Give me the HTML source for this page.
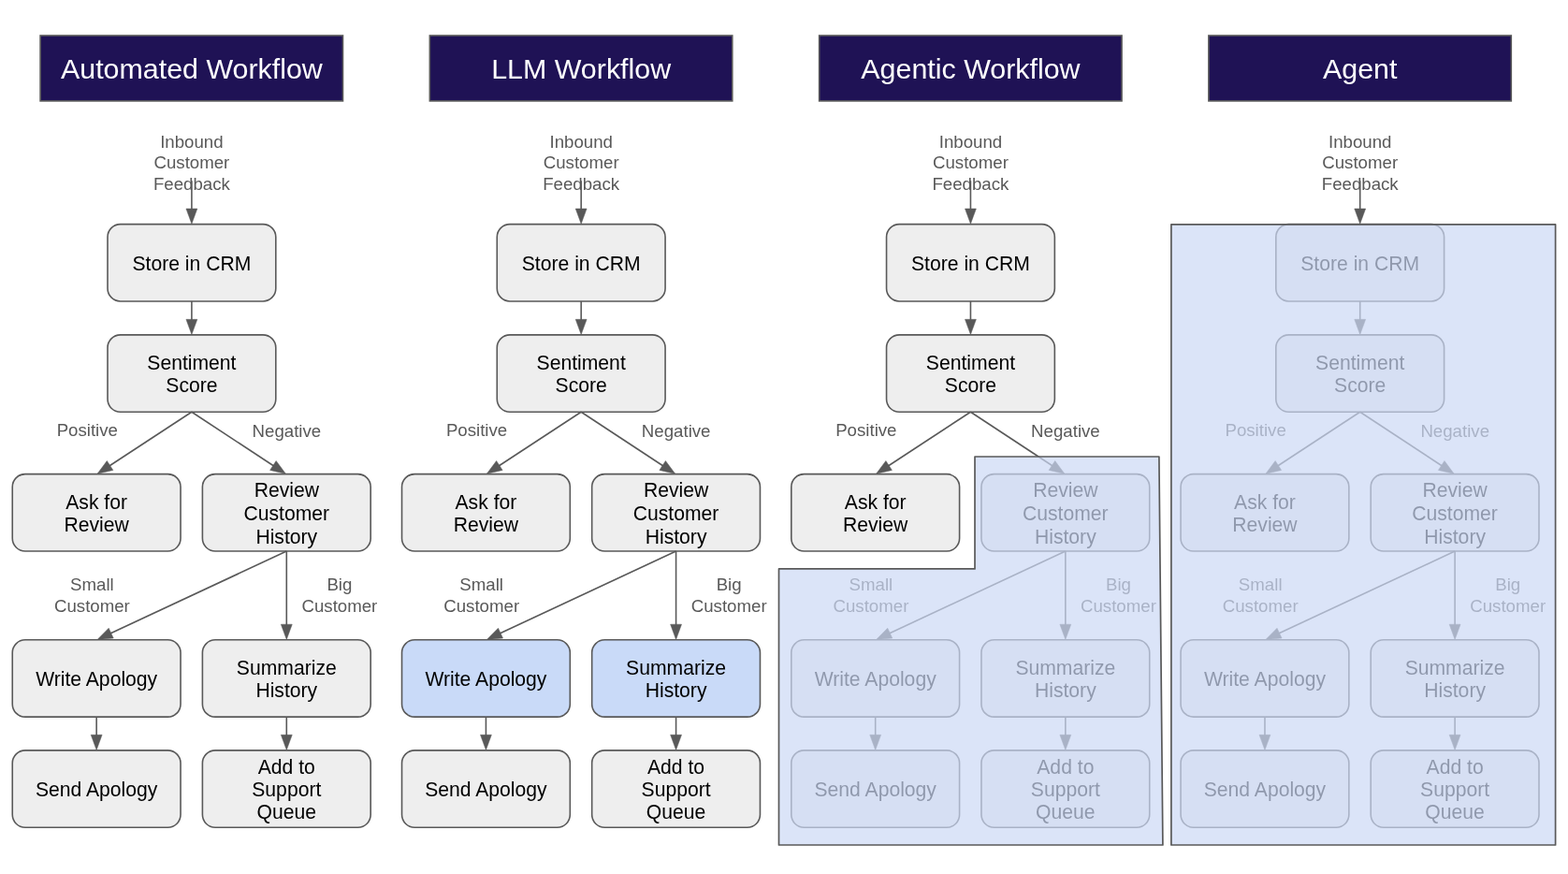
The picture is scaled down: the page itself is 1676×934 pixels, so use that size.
<!DOCTYPE html>
<html lang="en">
<head>
<meta charset="utf-8">
<title>Workflow to Agent spectrum</title>
<style>
html,body{margin:0;padding:0;background:#ffffff;}
body{width:1676px;height:934px;overflow:hidden;}
svg{display:block;will-change:transform;}
text{font-family:"Liberation Sans",sans-serif;text-anchor:middle;}
.h{font-size:30.4px;fill:#ffffff;}
.b{font-size:21.15px;fill:#000000;}
.l{font-size:18.67px;fill:#595959;}
</style>
</head>
<body>
<svg width="1676" height="934" viewBox="0 0 1676 934">
<rect x="0" y="0" width="1676" height="934" fill="#ffffff"/>
<g transform="translate(0.00,0)">
<rect x="43.1" y="38" width="323.4" height="69.9" fill="#1f1255" stroke="#595959" stroke-width="1.6"/>
<text class="h" x="204.9" y="84">Automated Workflow</text>
<text class="l" x="204.90" y="157.60">Inbound</text>
<text class="l" x="204.90" y="180.20">Customer</text>
<text class="l" x="204.90" y="202.80">Feedback</text>
<line x1="204.90" y1="193.30" x2="204.90" y2="224.00" stroke="#595959" stroke-width="1.6"/>
<polygon points="204.90,239.20 198.95,223.00 210.85,223.00" fill="#595959" stroke="#595959" stroke-width="0.5" stroke-linejoin="miter"/>
<rect x="115.00" y="239.60" width="179.8" height="82.35" rx="13.7" ry="13.7" fill="#eeeeee" stroke="#595959" stroke-width="1.6"/>
<text class="b" x="204.90" y="288.88">Store in CRM</text>
<line x1="204.90" y1="321.95" x2="204.90" y2="342.30" stroke="#595959" stroke-width="1.6"/>
<polygon points="204.90,357.50 198.95,341.30 210.85,341.30" fill="#595959" stroke="#595959" stroke-width="0.5" stroke-linejoin="miter"/>
<rect x="115.00" y="357.90" width="179.8" height="82.35" rx="13.7" ry="13.7" fill="#eeeeee" stroke="#595959" stroke-width="1.6"/>
<text class="b" x="204.90" y="394.95">Sentiment</text>
<text class="b" x="204.90" y="419.10">Score</text>
<line x1="204.90" y1="440.25" x2="116.76" y2="498.02" stroke="#595959" stroke-width="1.6"/>
<polygon points="104.05,506.35 114.34,492.49 120.86,502.45" fill="#595959" stroke="#595959" stroke-width="0.5" stroke-linejoin="miter"/>
<line x1="204.90" y1="440.25" x2="292.70" y2="498.00" stroke="#595959" stroke-width="1.6"/>
<polygon points="305.40,506.35 288.60,502.42 295.13,492.48" fill="#595959" stroke="#595959" stroke-width="0.5" stroke-linejoin="miter"/>
<text class="l" x="93.30" y="465.60">Positive</text>
<text class="l" x="306.40" y="466.80">Negative</text>
<rect x="13.25" y="506.65" width="179.8" height="82.35" rx="13.7" ry="13.7" fill="#eeeeee" stroke="#595959" stroke-width="1.6"/>
<text class="b" x="103.15" y="543.70">Ask for</text>
<text class="b" x="103.15" y="567.85">Review</text>
<rect x="216.40" y="506.65" width="179.8" height="82.35" rx="13.7" ry="13.7" fill="#eeeeee" stroke="#595959" stroke-width="1.6"/>
<text class="b" x="306.30" y="530.97">Review</text>
<text class="b" x="306.30" y="555.87">Customer</text>
<text class="b" x="306.30" y="580.77">History</text>
<line x1="306.30" y1="589.00" x2="117.82" y2="677.07" stroke="#595959" stroke-width="1.6"/>
<polygon points="104.05,683.50 116.21,671.25 121.25,682.03" fill="#595959" stroke="#595959" stroke-width="0.5" stroke-linejoin="miter"/>
<line x1="306.30" y1="589.00" x2="306.30" y2="668.20" stroke="#595959" stroke-width="1.6"/>
<polygon points="306.30,683.40 300.35,667.20 312.25,667.20" fill="#595959" stroke="#595959" stroke-width="0.5" stroke-linejoin="miter"/>
<text class="l" x="98.40" y="631.00">Small</text>
<text class="l" x="98.40" y="653.60">Customer</text>
<text class="l" x="362.90" y="631.00">Big</text>
<text class="l" x="362.90" y="653.60">Customer</text>
<rect x="13.25" y="683.80" width="179.8" height="82.35" rx="13.7" ry="13.7" fill="#eeeeee" stroke="#595959" stroke-width="1.6"/>
<text class="b" x="103.15" y="732.92">Write Apology</text>
<rect x="216.40" y="683.80" width="179.8" height="82.35" rx="13.7" ry="13.7" fill="#eeeeee" stroke="#595959" stroke-width="1.6"/>
<text class="b" x="306.30" y="720.85">Summarize</text>
<text class="b" x="306.30" y="745.00">History</text>
<line x1="103.15" y1="766.15" x2="103.15" y2="786.30" stroke="#595959" stroke-width="1.6"/>
<polygon points="103.15,801.50 97.20,785.30 109.10,785.30" fill="#595959" stroke="#595959" stroke-width="0.5" stroke-linejoin="miter"/>
<line x1="306.30" y1="766.15" x2="306.30" y2="786.30" stroke="#595959" stroke-width="1.6"/>
<polygon points="306.30,801.50 300.35,785.30 312.25,785.30" fill="#595959" stroke="#595959" stroke-width="0.5" stroke-linejoin="miter"/>
<rect x="13.25" y="801.90" width="179.8" height="82.35" rx="13.7" ry="13.7" fill="#eeeeee" stroke="#595959" stroke-width="1.6"/>
<text class="b" x="103.15" y="851.02">Send Apology</text>
<rect x="216.40" y="801.90" width="179.8" height="82.35" rx="13.7" ry="13.7" fill="#eeeeee" stroke="#595959" stroke-width="1.6"/>
<text class="b" x="306.30" y="826.88">Add to</text>
<text class="b" x="306.30" y="851.02">Support</text>
<text class="b" x="306.30" y="875.17">Queue</text>
</g>
<g transform="translate(416.27,0)">
<rect x="43.1" y="38" width="323.4" height="69.9" fill="#1f1255" stroke="#595959" stroke-width="1.6"/>
<text class="h" x="204.9" y="84">LLM Workflow</text>
<text class="l" x="204.90" y="157.60">Inbound</text>
<text class="l" x="204.90" y="180.20">Customer</text>
<text class="l" x="204.90" y="202.80">Feedback</text>
<line x1="204.90" y1="193.30" x2="204.90" y2="224.00" stroke="#595959" stroke-width="1.6"/>
<polygon points="204.90,239.20 198.95,223.00 210.85,223.00" fill="#595959" stroke="#595959" stroke-width="0.5" stroke-linejoin="miter"/>
<rect x="115.00" y="239.60" width="179.8" height="82.35" rx="13.7" ry="13.7" fill="#eeeeee" stroke="#595959" stroke-width="1.6"/>
<text class="b" x="204.90" y="288.88">Store in CRM</text>
<line x1="204.90" y1="321.95" x2="204.90" y2="342.30" stroke="#595959" stroke-width="1.6"/>
<polygon points="204.90,357.50 198.95,341.30 210.85,341.30" fill="#595959" stroke="#595959" stroke-width="0.5" stroke-linejoin="miter"/>
<rect x="115.00" y="357.90" width="179.8" height="82.35" rx="13.7" ry="13.7" fill="#eeeeee" stroke="#595959" stroke-width="1.6"/>
<text class="b" x="204.90" y="394.95">Sentiment</text>
<text class="b" x="204.90" y="419.10">Score</text>
<line x1="204.90" y1="440.25" x2="116.76" y2="498.02" stroke="#595959" stroke-width="1.6"/>
<polygon points="104.05,506.35 114.34,492.49 120.86,502.45" fill="#595959" stroke="#595959" stroke-width="0.5" stroke-linejoin="miter"/>
<line x1="204.90" y1="440.25" x2="292.70" y2="498.00" stroke="#595959" stroke-width="1.6"/>
<polygon points="305.40,506.35 288.60,502.42 295.13,492.48" fill="#595959" stroke="#595959" stroke-width="0.5" stroke-linejoin="miter"/>
<text class="l" x="93.30" y="465.60">Positive</text>
<text class="l" x="306.40" y="466.80">Negative</text>
<rect x="13.25" y="506.65" width="179.8" height="82.35" rx="13.7" ry="13.7" fill="#eeeeee" stroke="#595959" stroke-width="1.6"/>
<text class="b" x="103.15" y="543.70">Ask for</text>
<text class="b" x="103.15" y="567.85">Review</text>
<rect x="216.40" y="506.65" width="179.8" height="82.35" rx="13.7" ry="13.7" fill="#eeeeee" stroke="#595959" stroke-width="1.6"/>
<text class="b" x="306.30" y="530.97">Review</text>
<text class="b" x="306.30" y="555.87">Customer</text>
<text class="b" x="306.30" y="580.77">History</text>
<line x1="306.30" y1="589.00" x2="117.82" y2="677.07" stroke="#595959" stroke-width="1.6"/>
<polygon points="104.05,683.50 116.21,671.25 121.25,682.03" fill="#595959" stroke="#595959" stroke-width="0.5" stroke-linejoin="miter"/>
<line x1="306.30" y1="589.00" x2="306.30" y2="668.20" stroke="#595959" stroke-width="1.6"/>
<polygon points="306.30,683.40 300.35,667.20 312.25,667.20" fill="#595959" stroke="#595959" stroke-width="0.5" stroke-linejoin="miter"/>
<text class="l" x="98.40" y="631.00">Small</text>
<text class="l" x="98.40" y="653.60">Customer</text>
<text class="l" x="362.90" y="631.00">Big</text>
<text class="l" x="362.90" y="653.60">Customer</text>
<rect x="13.25" y="683.80" width="179.8" height="82.35" rx="13.7" ry="13.7" fill="#c9daf8" stroke="#595959" stroke-width="1.6"/>
<text class="b" x="103.15" y="732.92">Write Apology</text>
<rect x="216.40" y="683.80" width="179.8" height="82.35" rx="13.7" ry="13.7" fill="#c9daf8" stroke="#595959" stroke-width="1.6"/>
<text class="b" x="306.30" y="720.85">Summarize</text>
<text class="b" x="306.30" y="745.00">History</text>
<line x1="103.15" y1="766.15" x2="103.15" y2="786.30" stroke="#595959" stroke-width="1.6"/>
<polygon points="103.15,801.50 97.20,785.30 109.10,785.30" fill="#595959" stroke="#595959" stroke-width="0.5" stroke-linejoin="miter"/>
<line x1="306.30" y1="766.15" x2="306.30" y2="786.30" stroke="#595959" stroke-width="1.6"/>
<polygon points="306.30,801.50 300.35,785.30 312.25,785.30" fill="#595959" stroke="#595959" stroke-width="0.5" stroke-linejoin="miter"/>
<rect x="13.25" y="801.90" width="179.8" height="82.35" rx="13.7" ry="13.7" fill="#eeeeee" stroke="#595959" stroke-width="1.6"/>
<text class="b" x="103.15" y="851.02">Send Apology</text>
<rect x="216.40" y="801.90" width="179.8" height="82.35" rx="13.7" ry="13.7" fill="#eeeeee" stroke="#595959" stroke-width="1.6"/>
<text class="b" x="306.30" y="826.88">Add to</text>
<text class="b" x="306.30" y="851.02">Support</text>
<text class="b" x="306.30" y="875.17">Queue</text>
</g>
<g transform="translate(832.54,0)">
<rect x="43.1" y="38" width="323.4" height="69.9" fill="#1f1255" stroke="#595959" stroke-width="1.6"/>
<text class="h" x="204.9" y="84">Agentic Workflow</text>
<text class="l" x="204.90" y="157.60">Inbound</text>
<text class="l" x="204.90" y="180.20">Customer</text>
<text class="l" x="204.90" y="202.80">Feedback</text>
<line x1="204.90" y1="193.30" x2="204.90" y2="224.00" stroke="#595959" stroke-width="1.6"/>
<polygon points="204.90,239.20 198.95,223.00 210.85,223.00" fill="#595959" stroke="#595959" stroke-width="0.5" stroke-linejoin="miter"/>
<rect x="115.00" y="239.60" width="179.8" height="82.35" rx="13.7" ry="13.7" fill="#eeeeee" stroke="#595959" stroke-width="1.6"/>
<text class="b" x="204.90" y="288.88">Store in CRM</text>
<line x1="204.90" y1="321.95" x2="204.90" y2="342.30" stroke="#595959" stroke-width="1.6"/>
<polygon points="204.90,357.50 198.95,341.30 210.85,341.30" fill="#595959" stroke="#595959" stroke-width="0.5" stroke-linejoin="miter"/>
<rect x="115.00" y="357.90" width="179.8" height="82.35" rx="13.7" ry="13.7" fill="#eeeeee" stroke="#595959" stroke-width="1.6"/>
<text class="b" x="204.90" y="394.95">Sentiment</text>
<text class="b" x="204.90" y="419.10">Score</text>
<line x1="204.90" y1="440.25" x2="116.76" y2="498.02" stroke="#595959" stroke-width="1.6"/>
<polygon points="104.05,506.35 114.34,492.49 120.86,502.45" fill="#595959" stroke="#595959" stroke-width="0.5" stroke-linejoin="miter"/>
<line x1="204.90" y1="440.25" x2="292.70" y2="498.00" stroke="#595959" stroke-width="1.6"/>
<polygon points="305.40,506.35 288.60,502.42 295.13,492.48" fill="#595959" stroke="#595959" stroke-width="0.5" stroke-linejoin="miter"/>
<text class="l" x="93.30" y="465.60">Positive</text>
<text class="l" x="306.40" y="466.80">Negative</text>
<rect x="13.25" y="506.65" width="179.8" height="82.35" rx="13.7" ry="13.7" fill="#eeeeee" stroke="#595959" stroke-width="1.6"/>
<text class="b" x="103.15" y="543.70">Ask for</text>
<text class="b" x="103.15" y="567.85">Review</text>
<rect x="216.40" y="506.65" width="179.8" height="82.35" rx="13.7" ry="13.7" fill="#eeeeee" stroke="#595959" stroke-width="1.6"/>
<text class="b" x="306.30" y="530.97">Review</text>
<text class="b" x="306.30" y="555.87">Customer</text>
<text class="b" x="306.30" y="580.77">History</text>
<line x1="306.30" y1="589.00" x2="117.82" y2="677.07" stroke="#595959" stroke-width="1.6"/>
<polygon points="104.05,683.50 116.21,671.25 121.25,682.03" fill="#595959" stroke="#595959" stroke-width="0.5" stroke-linejoin="miter"/>
<line x1="306.30" y1="589.00" x2="306.30" y2="668.20" stroke="#595959" stroke-width="1.6"/>
<polygon points="306.30,683.40 300.35,667.20 312.25,667.20" fill="#595959" stroke="#595959" stroke-width="0.5" stroke-linejoin="miter"/>
<text class="l" x="98.40" y="631.00">Small</text>
<text class="l" x="98.40" y="653.60">Customer</text>
<text class="l" x="362.90" y="631.00">Big</text>
<text class="l" x="362.90" y="653.60">Customer</text>
<rect x="13.25" y="683.80" width="179.8" height="82.35" rx="13.7" ry="13.7" fill="#eeeeee" stroke="#595959" stroke-width="1.6"/>
<text class="b" x="103.15" y="732.92">Write Apology</text>
<rect x="216.40" y="683.80" width="179.8" height="82.35" rx="13.7" ry="13.7" fill="#eeeeee" stroke="#595959" stroke-width="1.6"/>
<text class="b" x="306.30" y="720.85">Summarize</text>
<text class="b" x="306.30" y="745.00">History</text>
<line x1="103.15" y1="766.15" x2="103.15" y2="786.30" stroke="#595959" stroke-width="1.6"/>
<polygon points="103.15,801.50 97.20,785.30 109.10,785.30" fill="#595959" stroke="#595959" stroke-width="0.5" stroke-linejoin="miter"/>
<line x1="306.30" y1="766.15" x2="306.30" y2="786.30" stroke="#595959" stroke-width="1.6"/>
<polygon points="306.30,801.50 300.35,785.30 312.25,785.30" fill="#595959" stroke="#595959" stroke-width="0.5" stroke-linejoin="miter"/>
<rect x="13.25" y="801.90" width="179.8" height="82.35" rx="13.7" ry="13.7" fill="#eeeeee" stroke="#595959" stroke-width="1.6"/>
<text class="b" x="103.15" y="851.02">Send Apology</text>
<rect x="216.40" y="801.90" width="179.8" height="82.35" rx="13.7" ry="13.7" fill="#eeeeee" stroke="#595959" stroke-width="1.6"/>
<text class="b" x="306.30" y="826.88">Add to</text>
<text class="b" x="306.30" y="851.02">Support</text>
<text class="b" x="306.30" y="875.17">Queue</text>
</g>
<g transform="translate(1248.81,0)">
<rect x="43.1" y="38" width="323.4" height="69.9" fill="#1f1255" stroke="#595959" stroke-width="1.6"/>
<text class="h" x="204.9" y="84">Agent</text>
<text class="l" x="204.90" y="157.60">Inbound</text>
<text class="l" x="204.90" y="180.20">Customer</text>
<text class="l" x="204.90" y="202.80">Feedback</text>
<line x1="204.90" y1="193.30" x2="204.90" y2="224.00" stroke="#595959" stroke-width="1.6"/>
<polygon points="204.90,239.20 198.95,223.00 210.85,223.00" fill="#595959" stroke="#595959" stroke-width="0.5" stroke-linejoin="miter"/>
<rect x="115.00" y="239.60" width="179.8" height="82.35" rx="13.7" ry="13.7" fill="#eeeeee" stroke="#595959" stroke-width="1.6"/>
<text class="b" x="204.90" y="288.88">Store in CRM</text>
<line x1="204.90" y1="321.95" x2="204.90" y2="342.30" stroke="#595959" stroke-width="1.6"/>
<polygon points="204.90,357.50 198.95,341.30 210.85,341.30" fill="#595959" stroke="#595959" stroke-width="0.5" stroke-linejoin="miter"/>
<rect x="115.00" y="357.90" width="179.8" height="82.35" rx="13.7" ry="13.7" fill="#eeeeee" stroke="#595959" stroke-width="1.6"/>
<text class="b" x="204.90" y="394.95">Sentiment</text>
<text class="b" x="204.90" y="419.10">Score</text>
<line x1="204.90" y1="440.25" x2="116.76" y2="498.02" stroke="#595959" stroke-width="1.6"/>
<polygon points="104.05,506.35 114.34,492.49 120.86,502.45" fill="#595959" stroke="#595959" stroke-width="0.5" stroke-linejoin="miter"/>
<line x1="204.90" y1="440.25" x2="292.70" y2="498.00" stroke="#595959" stroke-width="1.6"/>
<polygon points="305.40,506.35 288.60,502.42 295.13,492.48" fill="#595959" stroke="#595959" stroke-width="0.5" stroke-linejoin="miter"/>
<text class="l" x="93.30" y="465.60">Positive</text>
<text class="l" x="306.40" y="466.80">Negative</text>
<rect x="13.25" y="506.65" width="179.8" height="82.35" rx="13.7" ry="13.7" fill="#eeeeee" stroke="#595959" stroke-width="1.6"/>
<text class="b" x="103.15" y="543.70">Ask for</text>
<text class="b" x="103.15" y="567.85">Review</text>
<rect x="216.40" y="506.65" width="179.8" height="82.35" rx="13.7" ry="13.7" fill="#eeeeee" stroke="#595959" stroke-width="1.6"/>
<text class="b" x="306.30" y="530.97">Review</text>
<text class="b" x="306.30" y="555.87">Customer</text>
<text class="b" x="306.30" y="580.77">History</text>
<line x1="306.30" y1="589.00" x2="117.82" y2="677.07" stroke="#595959" stroke-width="1.6"/>
<polygon points="104.05,683.50 116.21,671.25 121.25,682.03" fill="#595959" stroke="#595959" stroke-width="0.5" stroke-linejoin="miter"/>
<line x1="306.30" y1="589.00" x2="306.30" y2="668.20" stroke="#595959" stroke-width="1.6"/>
<polygon points="306.30,683.40 300.35,667.20 312.25,667.20" fill="#595959" stroke="#595959" stroke-width="0.5" stroke-linejoin="miter"/>
<text class="l" x="98.40" y="631.00">Small</text>
<text class="l" x="98.40" y="653.60">Customer</text>
<text class="l" x="362.90" y="631.00">Big</text>
<text class="l" x="362.90" y="653.60">Customer</text>
<rect x="13.25" y="683.80" width="179.8" height="82.35" rx="13.7" ry="13.7" fill="#eeeeee" stroke="#595959" stroke-width="1.6"/>
<text class="b" x="103.15" y="732.92">Write Apology</text>
<rect x="216.40" y="683.80" width="179.8" height="82.35" rx="13.7" ry="13.7" fill="#eeeeee" stroke="#595959" stroke-width="1.6"/>
<text class="b" x="306.30" y="720.85">Summarize</text>
<text class="b" x="306.30" y="745.00">History</text>
<line x1="103.15" y1="766.15" x2="103.15" y2="786.30" stroke="#595959" stroke-width="1.6"/>
<polygon points="103.15,801.50 97.20,785.30 109.10,785.30" fill="#595959" stroke="#595959" stroke-width="0.5" stroke-linejoin="miter"/>
<line x1="306.30" y1="766.15" x2="306.30" y2="786.30" stroke="#595959" stroke-width="1.6"/>
<polygon points="306.30,801.50 300.35,785.30 312.25,785.30" fill="#595959" stroke="#595959" stroke-width="0.5" stroke-linejoin="miter"/>
<rect x="13.25" y="801.90" width="179.8" height="82.35" rx="13.7" ry="13.7" fill="#eeeeee" stroke="#595959" stroke-width="1.6"/>
<text class="b" x="103.15" y="851.02">Send Apology</text>
<rect x="216.40" y="801.90" width="179.8" height="82.35" rx="13.7" ry="13.7" fill="#eeeeee" stroke="#595959" stroke-width="1.6"/>
<text class="b" x="306.30" y="826.88">Add to</text>
<text class="b" x="306.30" y="851.02">Support</text>
<text class="b" x="306.30" y="875.17">Queue</text>
</g>
<polygon points="1042,488 1238.9,488 1242.9,903 832.5,903 832.5,607.95 1042,607.95" fill="#ccd9f5" fill-opacity="0.7" stroke="#595959" stroke-width="1.7" stroke-linejoin="round"/>
<rect x="1251.9" y="239.8" width="410.7" height="663.2" fill="#ccd9f5" fill-opacity="0.7" stroke="#595959" stroke-width="1.7" stroke-linejoin="round"/>
</svg>
</body>
</html>
